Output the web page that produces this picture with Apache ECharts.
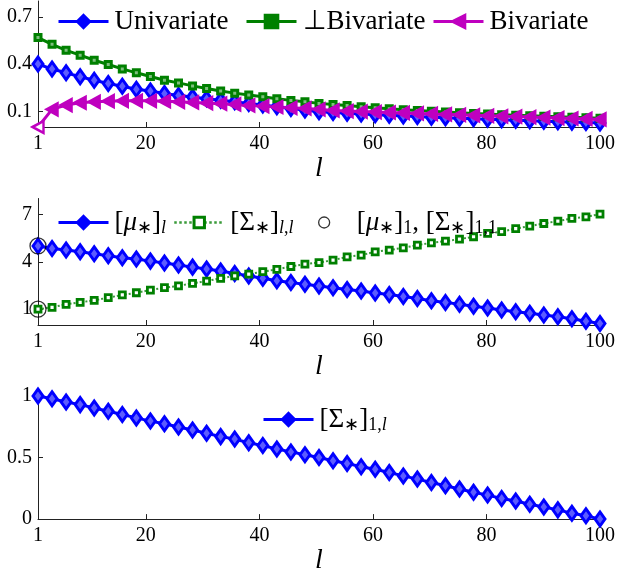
<!DOCTYPE html>
<html>
<head>
<meta charset="utf-8">
<script src="https://cdn.jsdelivr.net/npm/echarts@6/dist/echarts.min.js"></script>
<style>
html,body{margin:0;padding:0;background:#fff;}
#chart{width:618px;height:576px;}
</style>
</head>
<body>
<div id="chart"></div>
<script>
// ---- data ----
var xs = [1,3.475,5.95,8.425,10.9,13.375,15.85,18.325,20.8,23.275,25.75,28.225,30.7,33.175,35.65,38.125,40.6,43.075,45.55,48.025,50.5,52.975,55.45,57.925,60.4,62.875,65.35,67.825,70.3,72.775,75.25,77.725,80.2,82.675,85.15,87.625,90.1,92.575,95.05,97.525,100];
var univariate = [0.40,0.368,0.344,0.319,0.297,0.276,0.259,0.240,0.228,0.213,0.200,0.190,0.179,0.170,0.160,0.150,0.139,0.128,0.118,0.108,0.097,0.092,0.087,0.082,0.078,0.074,0.070,0.066,0.062,0.059,0.055,0.052,0.049,0.046,0.043,0.040,0.037,0.034,0.031,0.028,0.025];
var perpBivariate = [0.568,0.525,0.487,0.456,0.424,0.397,0.369,0.344,0.321,0.297,0.280,0.261,0.245,0.228,0.215,0.203,0.192,0.179,0.169,0.160,0.150,0.143,0.136,0.129,0.122,0.116,0.110,0.105,0.100,0.095,0.090,0.086,0.082,0.078,0.074,0.071,0.068,0.065,0.062,0.059,0.056];
var bivariate = [0,0.112,0.139,0.154,0.160,0.164,0.166,0.166,0.166,0.164,0.160,0.156,0.152,0.148,0.143,0.137,0.133,0.127,0.122,0.118,0.112,0.105,0.101,0.098,0.095,0.092,0.089,0.086,0.083,0.080,0.077,0.074,0.071,0.068,0.066,0.063,0.060,0.057,0.054,0.051,0.048];
var muStar = [5.0,4.84,4.74,4.63,4.50,4.38,4.25,4.17,4.04,3.92,3.79,3.66,3.54,3.41,3.26,3.10,2.95,2.80,2.69,2.57,2.47,2.36,2.25,2.15,2.03,1.93,1.80,1.68,1.54,1.43,1.31,1.18,1.08,0.95,0.84,0.74,0.63,0.52,0.39,0.24,0.10];
var sigmaDiag = [1.0,1.12,1.31,1.43,1.56,1.73,1.90,2.04,2.21,2.36,2.48,2.63,2.78,2.95,3.11,3.22,3.37,3.52,3.70,3.85,3.95,4.10,4.31,4.42,4.63,4.74,4.88,5.05,5.20,5.31,5.43,5.58,5.79,5.90,6.10,6.25,6.42,6.57,6.74,6.84,7.01];
var firstPoints = [[1,5],[1,1]];
var sigmaFirstRow = [1.0,0.978,0.951,0.930,0.903,0.876,0.850,0.822,0.796,0.775,0.748,0.724,0.697,0.670,0.650,0.620,0.597,0.570,0.546,0.522,0.500,0.474,0.452,0.426,0.405,0.378,0.351,0.325,0.298,0.271,0.245,0.218,0.195,0.168,0.147,0.120,0.099,0.075,0.048,0.027,0.0];
var xTickLabels = [1,20,40,60,80,100];
var xTickMarks = [20,40,60,80];
var yTicks1 = [0.1,0.4,0.7];
var yTicks2 = [1,4,7];
var yTicks3 = [0,0.5,1];

function pairs(vals){ return vals.map(function(v,i){ return [xs[i], v]; }); }

var FONT = 'Liberation Serif';
var BLUE = '#0000ff', GREEN = '#008000', MAG = '#bf00bf';

function xAxisCfg(idx){
  return {
    type:'value', gridIndex: idx, min:1, max:100,
    name:'l', nameLocation:'middle', nameGap:26,
    nameTextStyle:{fontFamily:FONT, fontStyle:'italic', fontSize:28, color:'#000'},
    axisLine:{show:true, onZero:false, lineStyle:{color:'#222', width:1}},
    axisTick:{show:true, inside:true, length:5, customValues:xTickMarks, lineStyle:{color:'#222'}},
    axisLabel:{show:true, customValues:xTickLabels, margin:7, fontFamily:FONT, fontSize:20, color:'#000'},
    splitLine:{show:false}
  };
}
function yAxisCfg(idx, mn, mx, ticks){
  return {
    type:'value', gridIndex: idx, min:mn, max:mx,
    axisLine:{show:true, onZero:false, lineStyle:{color:'#222', width:1}},
    axisTick:{show:true, inside:true, length:5, customValues:ticks, lineStyle:{color:'#222'}},
    axisLabel:{show:true, customValues:ticks, margin:6, fontFamily:FONT, fontSize:20, color:'#000'},
    splitLine:{show:false}
  };
}

var rich = {
  r:{fontFamily:FONT, fontSize:27, lineHeight:30, color:'#000'},
  i:{fontFamily:FONT, fontSize:27, lineHeight:30, fontStyle:'italic', color:'#000'},
  s:{fontFamily:FONT, fontSize:18, lineHeight:13, verticalAlign:'bottom', color:'#000'},
  si:{fontFamily:FONT, fontSize:18, lineHeight:13, verticalAlign:'bottom', fontStyle:'italic', color:'#000'}
};
var labelMap = {
  'Univariate':'{r|Univariate}',
  '⊥Bivariate':'{r|⊥Bivariate}',
  'Bivariate':'{r|Bivariate}',
  'mu':'{r|[}{i|μ}{s|∗}{r|]}{si|l}',
  'sigmaDiag':'{r|[Σ}{s|∗}{r|]}{si|l}{s|,}{si|l}',
  'first':'{r|[}{i|μ}{s|∗}{r|]}{s|1}{r|, [Σ}{s|∗}{r|]}{s|1,1}',
  'sigmaRow':'{r|[Σ}{s|∗}{r|]}{s|1,}{si|l}'
};
function legendCfg(name, left, cy, opts){
  opts = opts || {};
  return {
    data:[name], left:left, top:cy-15, padding:0, itemGap:0,
    itemWidth:opts.iw || 50, itemHeight:opts.ih || 17, selectedMode:false,
    formatter:function(n){ return labelMap[n]; },
    itemStyle:opts.itemStyle,
    lineStyle:opts.lineStyle,
    textStyle:{rich:rich, fontFamily:FONT, fontSize:27, padding:[0,0,0,opts.tp || 1]}
  };
}

var bivData = pairs(bivariate).map(function(p,i){
  return i===0 ? {value:p, itemStyle:{color:'#fff'}} : p;
});

var DIAMOND_FILL = '#5c5cff';

var option = {
  animation:false,
  backgroundColor:'#fff',
  grid:[
    {left:38, right:15, top:1, height:126},
    {left:38, right:15, top:198.5, height:126.5},
    {left:38, right:15, top:396, height:126}
  ],
  xAxis:[xAxisCfg(0), xAxisCfg(1), xAxisCfg(2)],
  yAxis:[yAxisCfg(0,0,0.8,yTicks1), yAxisCfg(1,0,8,yTicks2), yAxisCfg(2,0,1,yTicks3)],
  legend:[
    legendCfg('Univariate',57,23,{itemStyle:{color:BLUE, borderColor:BLUE, borderWidth:2}, lineStyle:{width:3}}),
    legendCfg('⊥Bivariate',245,23,{itemStyle:{color:GREEN, borderColor:GREEN, borderWidth:2}, lineStyle:{width:3}}),
    legendCfg('Bivariate',432,23,{itemStyle:{color:MAG, borderColor:MAG, borderWidth:2}, lineStyle:{width:3}}),
    legendCfg('mu',57,224,{itemStyle:{color:BLUE, borderColor:BLUE, borderWidth:2}, lineStyle:{width:3}}),
    legendCfg('sigmaDiag',173,224,{ih:13, itemStyle:{color:'#fff', borderColor:GREEN, borderWidth:3}, lineStyle:{width:2.5}}),
    legendCfg('first',318,224,{iw:11, ih:11, tp:22, itemStyle:{color:'rgba(255,255,255,0)', borderColor:'#000', borderWidth:1.3}}),
    legendCfg('sigmaRow',262,421,{itemStyle:{color:BLUE, borderColor:BLUE, borderWidth:2}, lineStyle:{width:3}})
  ],
  series:[
    {name:'Univariate', type:'line', xAxisIndex:0, yAxisIndex:0, data:pairs(univariate), clip:false,
     symbol:'diamond', symbolSize:[10,14], showAllSymbol:true,
     lineStyle:{color:BLUE, width:3}, itemStyle:{color:DIAMOND_FILL, borderColor:BLUE, borderWidth:3}},
    {name:'⊥Bivariate', type:'line', xAxisIndex:0, yAxisIndex:0, data:pairs(perpBivariate), clip:false,
     symbol:'rect', symbolSize:6, showAllSymbol:true,
     lineStyle:{color:GREEN, width:3}, itemStyle:{color:'#7fbf7f', borderColor:GREEN, borderWidth:3}},
    {name:'Bivariate', type:'line', xAxisIndex:0, yAxisIndex:0, data:bivData, clip:false,
     symbol:'path://M0,6L11,0L11,12Z', symbolSize:[11,12], showAllSymbol:true,
     lineStyle:{color:MAG, width:3}, itemStyle:{color:MAG, borderColor:MAG, borderWidth:2.5}},
    {name:'mu', type:'line', xAxisIndex:1, yAxisIndex:1, data:pairs(muStar), clip:false,
     symbol:'diamond', symbolSize:[10,14], showAllSymbol:true,
     lineStyle:{color:BLUE, width:3}, itemStyle:{color:DIAMOND_FILL, borderColor:BLUE, borderWidth:3}},
    {name:'sigmaDiag', type:'line', xAxisIndex:1, yAxisIndex:1, data:pairs(sigmaDiag), clip:false,
     symbol:'rect', symbolSize:6, showAllSymbol:true,
     lineStyle:{color:'#3a9a3a', width:2, type:'dotted'}, itemStyle:{color:'#fff', borderColor:GREEN, borderWidth:2.8}},
    {name:'first', type:'scatter', xAxisIndex:1, yAxisIndex:1, data:firstPoints, clip:false,
     symbol:'circle', symbolSize:16, z:5,
     itemStyle:{color:'rgba(255,255,255,0)', borderColor:'#000', borderWidth:1.3}},
    {name:'sigmaRow', type:'line', xAxisIndex:2, yAxisIndex:2, data:pairs(sigmaFirstRow), clip:false,
     symbol:'diamond', symbolSize:[10,14], showAllSymbol:true,
     lineStyle:{color:BLUE, width:3}, itemStyle:{color:DIAMOND_FILL, borderColor:BLUE, borderWidth:3}}
  ]
};
var chart = echarts.init(document.getElementById('chart'), null, {renderer:'canvas'});
chart.setOption(option);
</script>
</body>
</html>
